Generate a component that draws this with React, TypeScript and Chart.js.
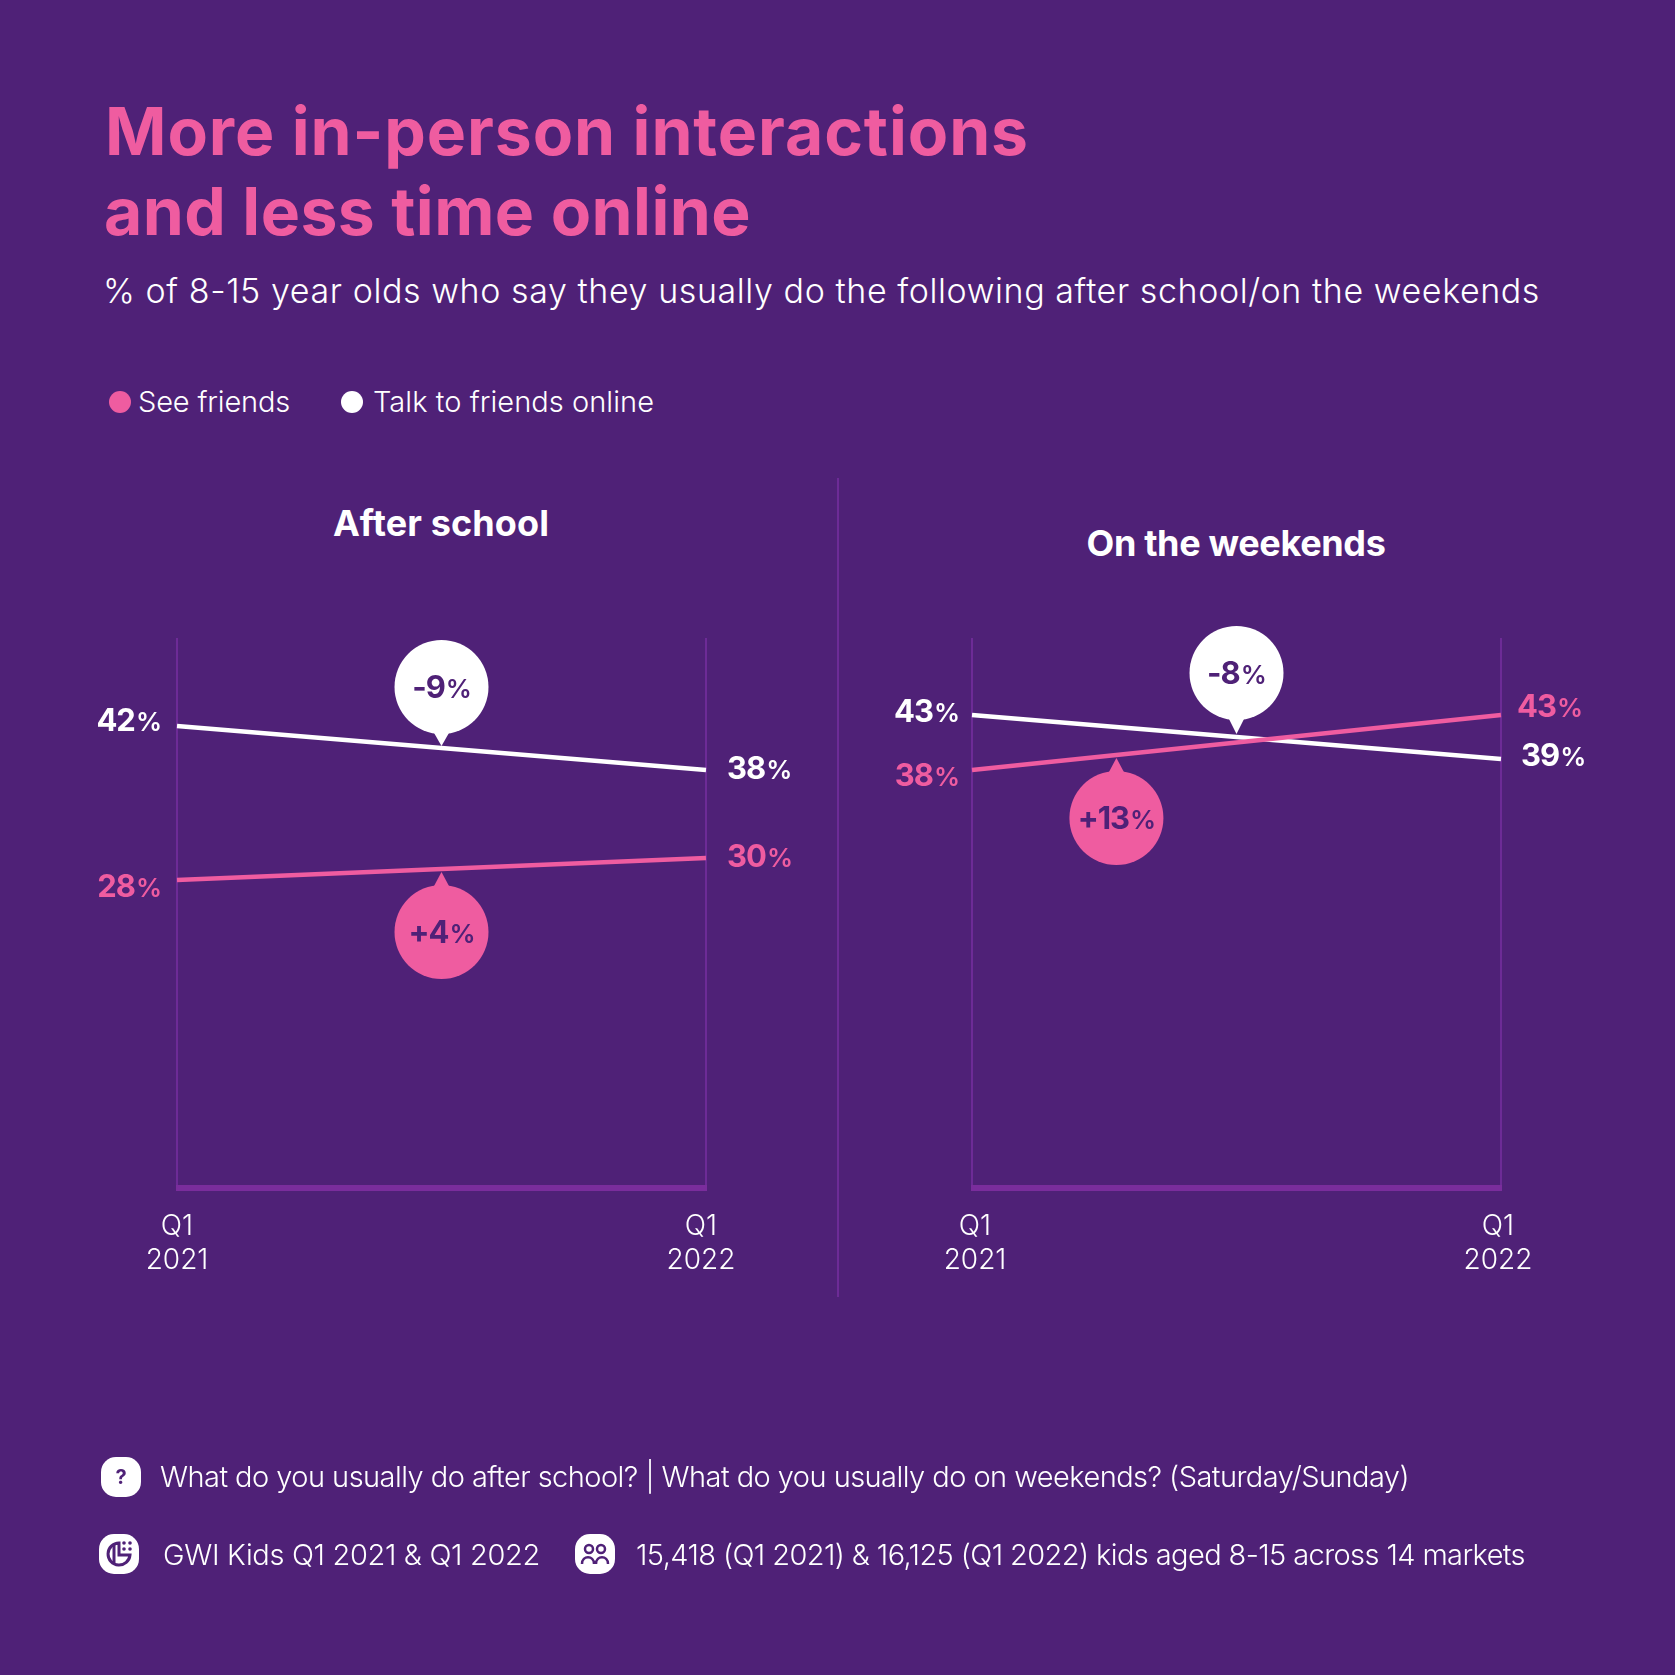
import React, { useEffect, useLayoutEffect, useRef } from "react";
import { Chart, registerables } from "chart.js";

Chart.register(...registerables);

const quarters = [["Q1", "2021"], ["Q1", "2022"]];
const seriesNames = ["See friends", "Talk to friends online"];
const afterSchoolSee = [28, 30];
const afterSchoolTalk = [42, 38];
const weekendSee = [38, 43];
const weekendTalk = [43, 39];
const afterSchoolChanges = ["+4%", "-9%"];
const weekendChanges = ["+13%", "-8%"];

const BG = "#4f2177";
const PINK = "#ef5ca0";
const WHITE = "#ffffff";
const AXIS = "#6d2b96";
const BAR = "#7a2d9c";
const FONT = "Inter";
const PANEL_W = 837;

function Fit({ x, cy, w, size, weight = 300, color = WHITE, children, center = false }: any) {
  const ref = useRef<HTMLDivElement>(null);
  useLayoutEffect(() => {
    const el = ref.current;
    if (!el) return;
    el.style.letterSpacing = "0px";
    const width = el.getBoundingClientRect().width;
    const n = String(children).length;
    el.style.letterSpacing = `${(w - width) / n}px`;
  }, []);
  return (
    <div
      ref={ref}
      style={{
        position: "absolute",
        left: center ? x - w / 2 : x,
        top: cy - size,
        lineHeight: `${size * 2}px`,
        fontSize: size,
        fontWeight: weight,
        fontFamily: FONT,
        color,
        whiteSpace: "nowrap",
      }}
    >
      {children}
    </div>
  );
}

function drawPct(ctx: any, text: string, x: number, y: number, align: string, color: string, big = 31, small = 26) {
  const num = text.replace("%", "");
  const numFont = `700 ${big}px ${FONT}`;
  const pctFont = `600 ${small}px ${FONT}`;
  ctx.save();
  ctx.textBaseline = "alphabetic";
  ctx.textAlign = "left";
  ctx.fillStyle = color;
  ctx.letterSpacing = "-1px";
  ctx.font = numFont;
  const nw = ctx.measureText(num).width;
  ctx.font = pctFont;
  const pw = ctx.measureText("%").width;
  const total = nw + pw + 1;
  const left = align === "right" ? x - total : align === "center" ? x - total / 2 : x;
  const base = y + big * 0.364;
  ctx.font = numFont;
  ctx.fillText(num, left, base);
  ctx.font = pctFont;
  ctx.fillText("%", left + nw + 1, base);
  ctx.restore();
}

const annotationPlugin = {
  id: "annotations",
  beforeDatasetsDraw(chart: any) {
    const { ctx, scales } = chart;
    const x = scales.x;
    const y0 = scales.y.getPixelForValue(0);
    ctx.save();
    ctx.fillStyle = BAR;
    ctx.fillRect(x.left - 1, y0 - 3, x.width + 2, 6);
    ctx.restore();
  },
  afterDatasetsDraw(chart: any, _a: any, opts: any) {
    const { ctx, scales } = chart;
    const x = scales.x;
    const y = scales.y;
    const lineValue = (ds: number, at: number) => {
      const d = chart.data.datasets[ds].data;
      return d[0] + (d[1] - d[0]) * at;
    };
    for (const b of opts.bubbles) {
      const px = x.getPixelForValue(b.at);
      const py = y.getPixelForValue(lineValue(b.ds, b.at));
      const color = chart.data.datasets[b.ds].borderColor;
      const dir = b.dir;
      const cy = py + dir * b.gap;
      ctx.save();
      ctx.fillStyle = color;
      ctx.beginPath();
      ctx.arc(px, cy, 47, 0, Math.PI * 2);
      ctx.fill();
      ctx.beginPath();
      ctx.moveTo(px - 8, cy - dir * 45);
      ctx.lineTo(px, py + dir * b.tip);
      ctx.lineTo(px + 8, cy - dir * 45);
      ctx.closePath();
      ctx.fill();
      ctx.restore();
      drawPct(ctx, b.text, px, cy, "center", BG);
    }
    for (const l of opts.labels) {
      const value = chart.data.datasets[l.ds].data[l.i];
      const px = x.getPixelForValue(l.i) + l.dx;
      const py = y.getPixelForValue(value) + l.dy;
      drawPct(ctx, `${value}%`, px, py, l.i === 0 ? "right" : "left", chart.data.datasets[l.ds].borderColor);
    }
  },
  beforeDraw(chart: any, _a: any, opts: any) {
    const items = chart.scales.x.getLabelItems();
    items.forEach((it: any, i: number) => {
      if (!it.__moved) {
        it.options.translation[0] += opts.tickShift[i];
        it.__moved = true;
      }
    });
  },
};

function Panel({ left, padLeft, padRight, see, talk, bubbles, labels, tickShift }: any) {
  const ref = useRef<HTMLCanvasElement>(null);
  useEffect(() => {
    const chart = new Chart(ref.current as any, {
      type: "line",
      data: {
        labels: quarters,
        datasets: [
          { label: seriesNames[0], data: see, borderColor: PINK, borderWidth: 4.5, pointRadius: 0, tension: 0, clip: false, borderCapStyle: "butt" },
          { label: seriesNames[1], data: talk, borderColor: WHITE, borderWidth: 4.5, pointRadius: 0, tension: 0, clip: false, borderCapStyle: "butt" },
        ],
      },
      options: {
        animation: false,
        responsive: false,
        maintainAspectRatio: false,
        events: [],
        layout: { padding: { left: padLeft, right: padRight, top: 638, bottom: 367 } },
        plugins: {
          legend: { display: false },
          title: { display: false },
          tooltip: { enabled: false },
          annotations: { bubbles, labels, tickShift },
        } as any,
        scales: {
          x: {
            type: "category",
            offset: false,
            afterFit: (s: any) => { s.height = 120; },
            grid: { display: true, color: AXIS, lineWidth: 2, drawTicks: false, z: 0 },
            border: { display: false },
            ticks: {
              color: WHITE,
              padding: 22,
              autoSkip: false,
              maxRotation: 0,
              minRotation: 0,
              font: { family: FONT, size: 28, weight: "300", lineHeight: 1.2 },
            },
          },
          y: { display: false, min: 0, max: 50 },
        },
      } as any,
      plugins: [annotationPlugin],
    });
    return () => chart.destroy();
  }, []);
  return (
    <canvas
      ref={ref}
      width={PANEL_W}
      height={1675}
      style={{ position: "absolute", left, top: 0, width: PANEL_W, height: 1675 }}
    />
  );
}

function Squircle({ x, y, children }: any) {
  return (
    <svg style={{ position: "absolute", left: x, top: y }} width={40} height={40} viewBox="0 0 40 40">
      <rect x={0} y={0} width={40} height={40} rx={15} fill={WHITE} />
      {children}
    </svg>
  );
}

export default function App() {
  return (
    <div style={{ position: "absolute", left: 0, top: 0, width: 1675, height: 1675, background: BG, overflow: "hidden" }}>
      <Fit x={105} cy={131} w={924} size={66} weight={700} color={PINK}>More in-person interactions</Fit>
      <Fit x={104} cy={211} w={647} size={66} weight={700} color={PINK}>and less time online</Fit>
      <Fit x={103} cy={291} w={1437} size={34}>% of 8-15 year olds who say they usually do the following after school/on the weekends</Fit>

      <div style={{ position: "absolute", left: 109, top: 391, width: 22, height: 22, borderRadius: 11, background: PINK }} />
      <Fit x={138} cy={402} w={152} size={29}>{seriesNames[0]}</Fit>
      <div style={{ position: "absolute", left: 341, top: 391, width: 22, height: 22, borderRadius: 11, background: WHITE }} />
      <Fit x={373} cy={402} w={281} size={29}>{seriesNames[1]}</Fit>

      <Fit x={441} cy={523} w={216} size={36} weight={700} center>After school</Fit>
      <Fit x={1236} cy={543} w={299} size={36} weight={700} center>On the weekends</Fit>

      <div style={{ position: "absolute", left: 836.5, top: 478, width: 2, height: 819, background: AXIS }} />

      <Panel
        left={0}
        padLeft={177}
        padRight={PANEL_W - 706}
        see={afterSchoolSee}
        talk={afterSchoolTalk}
        tickShift={[0, -5]}
        bubbles={[
          { ds: 0, at: 0.5, dir: 1, gap: 63, tip: 3, text: afterSchoolChanges[0] },
          { ds: 1, at: 0.5, dir: -1, gap: 61, tip: 2, text: afterSchoolChanges[1] },
        ]}
        labels={[
          { ds: 0, i: 0, dx: -16, dy: 6 },
          { ds: 1, i: 0, dx: -16, dy: -6 },
          { ds: 0, i: 1, dx: 21, dy: -2 },
          { ds: 1, i: 1, dx: 21, dy: -2 },
        ]}
      />
      <Panel
        left={838}
        padLeft={134}
        padRight={PANEL_W - 663}
        see={weekendSee}
        talk={weekendTalk}
        tickShift={[3, -3]}
        bubbles={[
          { ds: 0, at: 0.273, dir: 1, gap: 63, tip: 3, text: weekendChanges[0] },
          { ds: 1, at: 0.5, dir: -1, gap: 64, tip: 3, text: weekendChanges[1] },
        ]}
        labels={[
          { ds: 0, i: 0, dx: -13, dy: 5 },
          { ds: 1, i: 0, dx: -13, dy: -4 },
          { ds: 0, i: 1, dx: 16, dy: -9 },
          { ds: 1, i: 1, dx: 20, dy: -4 },
        ]}
      />

      <Squircle x={101} y={1457}>
        <text x={20} y={27} textAnchor="middle" fontFamily={FONT} fontSize={20} fontWeight={700} fill={BG}>?</text>
      </Squircle>
      <Fit x={160} cy={1477} w={1249} size={29}>What do you usually do after school? | What do you usually do on weekends? (Saturday/Sunday)</Fit>

      <Squircle x={99} y={1534}>
        <path d="M20 9 A11 11 0 1 0 31 21 L20 21 Z" fill="none" stroke={BG} strokeWidth={3} />
        <path d="M15 10 V30" stroke={BG} strokeWidth={3} fill="none" />
        <circle cx={25} cy={9} r={1.8} fill={BG} />
        <circle cx={31} cy={9} r={1.8} fill={BG} />
        <circle cx={25} cy={15} r={1.8} fill={BG} />
        <circle cx={31} cy={15} r={1.8} fill={BG} />
      </Squircle>
      <Fit x={163} cy={1555} w={377} size={29}>GWI Kids Q1 2021 &amp; Q1 2022</Fit>

      <Squircle x={575} y={1534}>
        <circle cx={14} cy={15} r={4} fill="none" stroke={BG} strokeWidth={2.5} />
        <circle cx={26} cy={15} r={4} fill="none" stroke={BG} strokeWidth={2.5} />
        <path d="M7 30 C7 21 19 21 19 30" fill="none" stroke={BG} strokeWidth={2.5} />
        <path d="M21 30 C21 21 33 21 33 30" fill="none" stroke={BG} strokeWidth={2.5} />
      </Squircle>
      <Fit x={636} cy={1555} w={889} size={29}>15,418 (Q1 2021) &amp; 16,125 (Q1 2022) kids aged 8-15 across 14 markets</Fit>
    </div>
  );
}
